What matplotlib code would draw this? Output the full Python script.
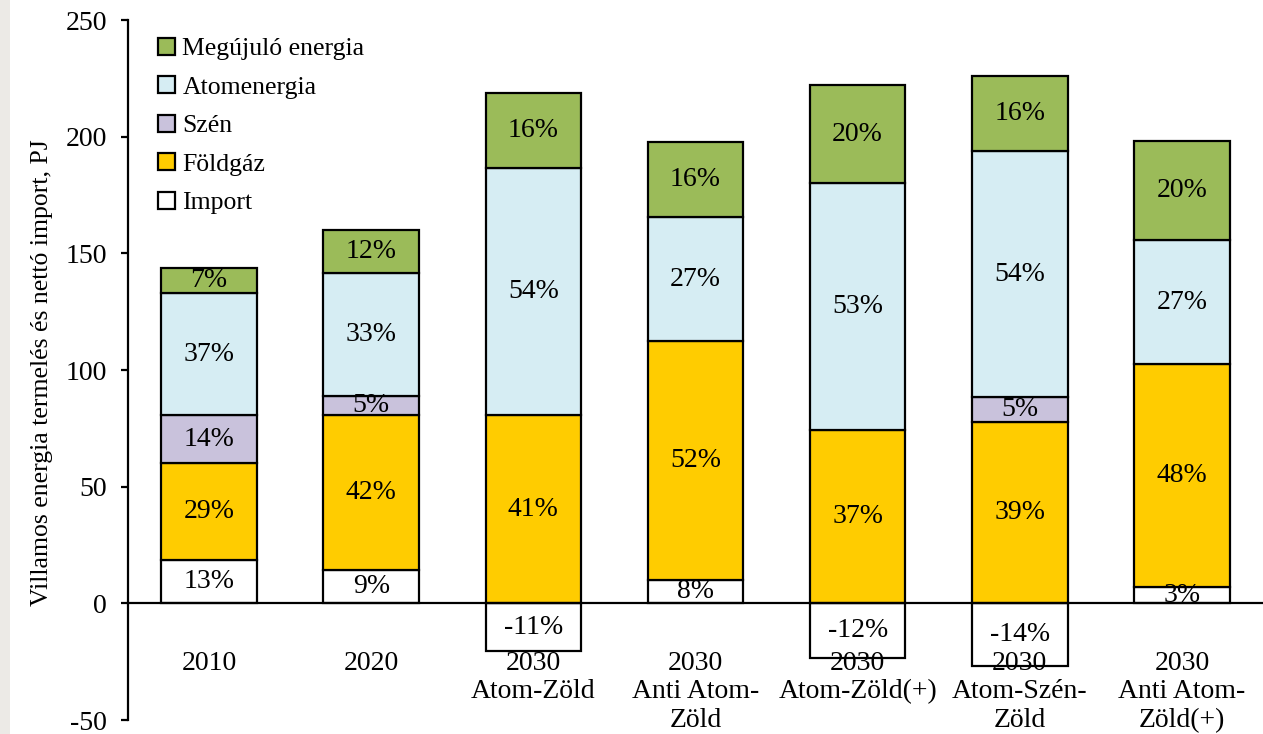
import matplotlib
matplotlib.use("Agg")
import matplotlib.pyplot as plt
import numpy as np
from matplotlib.patches import Patch, Rectangle

plt.rcParams['font.family'] = ['Liberation Serif', 'DejaVu Serif']
plt.rcParams['axes.unicode_minus'] = False

# Kategóriák (forgatókönyvek)
kategoriak = ["2010", "2020", "2030\nAtom-Zöld", "2030\nAnti Atom-\nZöld",
              "2030\nAtom-Zöld(+)", "2030\nAtom-Szén-\nZöld", "2030\nAnti Atom-\nZöld(+)"]

# Értékek, PJ
importt   = [18.4, 14.1, -20.6, 9.9, -23.6, -27.0, 6.9]
foldgaz   = [41.6, 66.5, 80.6, 102.4, 74.2, 77.6, 95.5]
szen      = [20.6, 8.1, 0, 0, 0, 10.7, 0]
atom      = [52.3, 52.7, 105.8, 53.1, 105.8, 105.4, 53.2]
megujulo  = [10.7, 18.5, 32.2, 32.2, 42.0, 32.2, 42.4]

# Százalékos feliratok
import_pct    = ["13%", "9%", "-11%", "8%", "-12%", "-14%", "3%"]
foldgaz_pct   = ["29%", "42%", "41%", "52%", "37%", "39%", "48%"]
szen_pct      = ["14%", "5%", "", "", "", "5%", ""]
atom_pct      = ["37%", "33%", "54%", "27%", "53%", "54%", "27%"]
megujulo_pct  = ["7%", "12%", "16%", "16%", "20%", "16%", "20%"]

szinek = {
    "Megújuló energia": "#9BBB59",
    "Atomenergia": "#D6EDF3",
    "Szén": "#C9C2DC",
    "Földgáz": "#FFCC00",
    "Import": "#FFFFFF",
}

fig = plt.figure(figsize=(12.63, 7.34), dpi=100)
fig.patches.append(Rectangle((0, 0), 10 / 1263, 1, transform=fig.transFigure,
                             facecolor="#ECEAE6", edgecolor="none", zorder=0))
ax = fig.add_axes([128 / 1263, 14 / 734, 1 - 128 / 1263, 700 / 734])

x = np.arange(len(kategoriak))
w = 0.59
ek = dict(edgecolor="black", linewidth=1.6, width=w)

# import: pozitív a nulla felett, negatív alatta
ax.bar(x, importt, color=szinek["Import"], **ek)
also = np.clip(np.array(importt), 0, None)
sorok = [(foldgaz, "Földgáz", foldgaz_pct), (szen, "Szén", szen_pct),
         (atom, "Atomenergia", atom_pct), (megujulo, "Megújuló energia", megujulo_pct)]

fs = 20
for i in range(len(x)):
    ax.text(x[i], importt[i] / 2, import_pct[i], ha="center", va="center", fontsize=fs)

for ertek, nev, pct in sorok:
    ertek = np.array(ertek)
    maszk = ertek > 0
    ax.bar(x[maszk], ertek[maszk], bottom=also[maszk], color=szinek[nev], **ek)
    for i in range(len(x)):
        if ertek[i] > 0:
            ax.text(x[i], also[i] + ertek[i] / 2, pct[i], ha="center", va="center", fontsize=fs)
    also = also + ertek

ax.set_xlim(-0.5, len(x) - 0.5)
ax.set_ylim(-50, 250)
ax.set_yticks(np.arange(-50, 251, 50))
ax.set_xticks(x)
ax.set_xticklabels(kategoriak, linespacing=1.0)
ax.tick_params(axis="x", length=0, pad=34, labelsize=fs)
ax.tick_params(axis="y", labelsize=fs, length=5, width=1.6, direction="out", pad=10)

ax.spines["top"].set_visible(False)
ax.spines["right"].set_visible(False)
ax.spines["bottom"].set_position(("data", 0))
ax.spines["bottom"].set_linewidth(1.6)
ax.spines["left"].set_linewidth(1.6)

ax.set_ylabel("Villamos energia termelés és nettó import, PJ", fontsize=18.5)
ax.yaxis.set_label_coords(-0.066, 0.496)

kezek = [Patch(facecolor=szinek[n], edgecolor="black", linewidth=1.6) for n in szinek]
ax.legend(kezek, list(szinek.keys()), loc="upper left", bbox_to_anchor=(0.006, 1.008),
          frameon=False, fontsize=18.5, handlelength=0.65, handleheight=0.65,
          handletextpad=0.3, labelspacing=0.62)

fig.savefig("out.png", dpi=100)
